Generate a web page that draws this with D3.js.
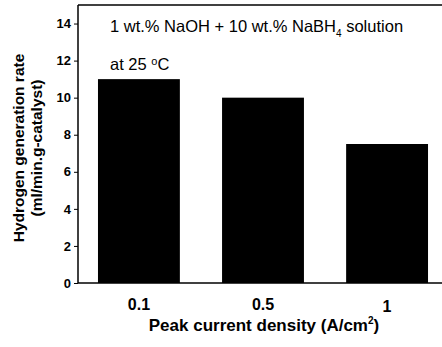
<!DOCTYPE html>
<meta charset="utf-8">
<style>
body { margin: 0; background: #fff; }
svg { font-family: "Liberation Sans", Arial, sans-serif; }
.axis text { font-weight: bold; font-size: 13px; fill: #000; }
</style>
<svg width="442" height="347"></svg>
<script src="https://cdn.jsdelivr.net/npm/d3@7/dist/d3.min.js"></script>
<script>
var categories = ["0.1", "0.5", "1"];
var rates = [11.0, 10.0, 7.5];
var yTicks = [0, 2, 4, 6, 8, 10, 12, 14];

var svg = d3.select("svg"),
    mLeft = 78, mTop = 5, mBottom = 283, mRight = 448;

var x = d3.scaleBand().domain(categories).range([mLeft, mRight])
    .paddingInner(0.34).paddingOuter(0.161);
var y = d3.scaleLinear().domain([0, 15]).range([mBottom, mTop]);

// bars
svg.selectAll(".bar")
  .data(rates)
  .enter().append("rect")
    .attr("class", "bar")
    .attr("x", function(d, i) { return x(categories[i]); })
    .attr("y", function(d) { return y(d); })
    .attr("width", x.bandwidth())
    .attr("height", function(d) { return y(0) - y(d); })
    .attr("fill", "#000");

// frame
svg.append("line").attr("x1", mLeft).attr("x2", mRight).attr("y1", mTop).attr("y2", mTop)
  .attr("stroke", "#000").attr("stroke-width", 1.5);
svg.append("line").attr("x1", mLeft).attr("x2", mRight).attr("y1", mBottom).attr("y2", mBottom)
  .attr("stroke", "#000").attr("stroke-width", 1.5);

// y axis
var yaxis = svg.append("g")
  .attr("class", "axis")
  .attr("transform", "translate(" + mLeft + ",0)")
  .call(d3.axisLeft(y).tickValues(yTicks).tickSizeInner(4).tickSizeOuter(0).tickPadding(3));
yaxis.select(".domain").attr("stroke-width", 1.5).attr("d", "M0," + mTop + "V" + mBottom);

// x labels
svg.selectAll(".xlab")
  .data(categories)
  .enter().append("text")
    .attr("x", function(d) { return x(d) + x.bandwidth() / 2; })
    .attr("y", function(d) { return d === "1" ? 312 : 310; })
    .attr("text-anchor", "middle")
    .attr("font-weight", "bold")
    .attr("font-size", "16px")
    .text(function(d) { return d; });

// x title
var xt = svg.append("text")
  .attr("x", 264).attr("y", 331)
  .attr("text-anchor", "middle")
  .attr("font-weight", "bold")
  .attr("font-size", "17px");
xt.append("tspan").text("Peak current density (A/cm");
xt.append("tspan").attr("dy", -7).attr("font-size", "10px").text("2");
xt.append("tspan").attr("dy", 7).text(")");

// y title
var yt = svg.append("text")
  .attr("transform", "translate(24,148) rotate(-90)")
  .attr("text-anchor", "middle")
  .attr("font-weight", "bold")
  .attr("font-size", "15.5px");
yt.append("tspan").attr("x", 0).attr("dy", 0).text("Hydrogen generation rate");
yt.append("tspan").attr("x", 0).attr("dy", 18).text("(ml/min.g-catalyst)");

// annotation
var a1 = svg.append("text").attr("x", 110).attr("y", 32).attr("font-size", "16.5px");
a1.append("tspan").text("1 wt.% NaOH + 10 wt.% NaBH");
a1.append("tspan").attr("dy", 5).attr("font-size", "10px").text("4");
a1.append("tspan").attr("dy", -5).text(" solution");
var a2 = svg.append("text").attr("x", 110).attr("y", 70).attr("font-size", "16.5px");
a2.append("tspan").text("at 25 ");
a2.append("tspan").attr("dy", -5).attr("font-size", "11px").text("o");
a2.append("tspan").attr("dy", 5).text("C");
</script>
